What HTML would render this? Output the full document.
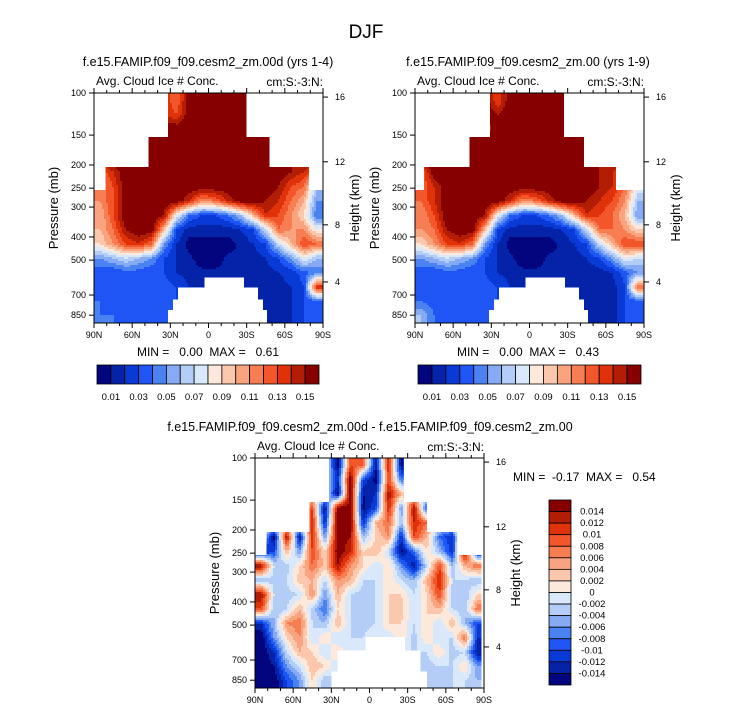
<!DOCTYPE html>
<html><head><meta charset="utf-8">
<style>
body{margin:0;background:#fff;}
svg text{font-family:"Liberation Sans",sans-serif;white-space:pre;}
</style></head>
<body>
<svg id="fig" width="733" height="712" viewBox="0 0 733 712" xmlns="http://www.w3.org/2000/svg">
<text x="366" y="38" font-size="19" text-anchor="middle">DJF</text>
</svg>
<script>
// ---- data ----
const lats = [85,75,65,55,45,35,25,15,5,-5,-15,-25,-35,-45,-55,-65,-75,-85];
const presTicks = [100,150,200,250,300,400,500,700,850];
const latTicks = [90,60,30,0,-30,-60,-90];
const latTickLabels = ['90N','60N','30N','0','30S','60S','90S'];
const heightTicks = [16,12,8,4];
const heightTickPres = [104,194,356,617];
const cbLevels = [0.01,0.02,0.03,0.04,0.05,0.06,0.07,0.08,0.09,0.10,0.11,0.12,0.13,0.14,0.15];
const cbLabels = ['0.01','0.03','0.05','0.07','0.09','0.11','0.13','0.15'];
const diffLevels = [-14,-12,-10,-8,-6,-4,-2,0,2,4,6,8,10,12,14]; // x0.001
const diffLabels = ['0.014','0.012','0.01','0.008','0.006','0.004','0.002','0','-0.002','-0.004','-0.006','-0.008','-0.01','-0.012','-0.014'];
const palette = ['#03057e','#0523a8','#0a3ad6','#1f55f5','#4a82f2','#86aaf3','#b4cdf6','#d9e9fb','#fde9dc','#fbc7ad','#f9a47f','#f77e53','#f2562a','#e03208','#b31d04','#870000'];

// rows: 16 bands evenly in log-p from 100 to ~917 mb (top -> bottom)
const fieldA = [
[.16,.16,.16,.16,.16,.14,.12,.16,.16,.16,.16,.16,.16,.16,.16,.16,.16,.16],
[.16,.16,.16,.16,.16,.14,.13,.16,.16,.16,.16,.16,.16,.16,.16,.16,.16,.16],
[.16,.16,.16,.16,.16,.16,.16,.16,.16,.16,.16,.16,.16,.16,.15,.16,.16,.16],
[.16,.16,.16,.16,.16,.16,.16,.16,.16,.16,.16,.16,.16,.16,.15,.16,.16,.16],
[.16,.16,.16,.16,.16,.16,.16,.16,.16,.16,.16,.16,.16,.16,.16,.15,.16,.16],
[.12,.14,.16,.16,.16,.16,.16,.16,.16,.16,.16,.16,.16,.16,.16,.15,.14,.12],
[.11,.13,.16,.16,.16,.16,.16,.16,.16,.16,.16,.16,.16,.16,.15,.13,.12,.06],
[.11,.13,.16,.16,.16,.16,.16,.14,.11,.12,.14,.16,.16,.15,.14,.12,.10,.05],
[.10,.13,.16,.16,.16,.15,.08,.04,.03,.03,.04,.06,.10,.14,.13,.11,.09,.04],
[.10,.12,.15,.16,.16,.10,.03,.015,.015,.015,.015,.02,.03,.07,.12,.11,.11,.08],
[.09,.11,.13,.14,.12,.05,.02,.005,.005,.005,.005,.012,.02,.03,.07,.10,.13,.12],
[.05,.06,.07,.06,.05,.03,.02,.012,.005,.005,.012,.012,.015,.02,.03,.05,.08,.06],
[.035,.03,.035,.035,.03,.03,.02,.015,.012,.012,.012,.012,.015,.015,.02,.025,.035,.045],
[.035,.04,.035,.03,.035,.035,.03,.02,.02,.015,.015,.015,.015,.015,.015,.02,.03,.14],
[.04,.035,.035,.04,.035,.035,.03,.02,.02,.02,.02,.02,.015,.015,.015,.02,.03,.035],
[.04,.04,.035,.04,.035,.035,.03,.02,.02,.02,.02,.02,.015,.015,.015,.02,.03,.035]];
const fieldB = [
[.16,.16,.16,.16,.16,.16,.13,.16,.16,.16,.16,.16,.16,.16,.16,.16,.16,.16],
[.16,.16,.16,.16,.16,.16,.15,.16,.16,.16,.16,.16,.16,.16,.16,.16,.16,.16],
[.16,.16,.16,.16,.16,.14,.16,.16,.16,.16,.16,.16,.16,.16,.16,.16,.16,.16],
[.16,.16,.16,.16,.16,.16,.16,.16,.16,.16,.16,.16,.16,.16,.16,.16,.16,.16],
[.16,.16,.16,.16,.16,.16,.16,.16,.16,.16,.16,.16,.16,.16,.15,.15,.16,.16],
[.12,.16,.16,.16,.16,.16,.16,.16,.16,.16,.16,.16,.16,.16,.15,.14,.13,.12],
[.12,.14,.16,.16,.16,.16,.16,.16,.16,.16,.16,.16,.16,.16,.15,.14,.12,.08],
[.12,.14,.16,.16,.16,.16,.16,.14,.11,.12,.14,.16,.16,.15,.14,.13,.11,.06],
[.11,.13,.16,.16,.16,.15,.08,.04,.03,.03,.04,.06,.10,.14,.13,.12,.10,.05],
[.11,.12,.15,.16,.16,.10,.03,.015,.015,.015,.015,.02,.03,.07,.12,.12,.11,.09],
[.09,.11,.13,.14,.12,.05,.02,.005,.005,.005,.005,.012,.02,.03,.07,.10,.13,.13],
[.05,.06,.07,.06,.05,.03,.02,.012,.005,.005,.012,.012,.015,.02,.03,.05,.08,.07],
[.035,.03,.035,.035,.03,.03,.02,.015,.012,.012,.012,.012,.015,.015,.015,.02,.035,.05],
[.035,.04,.035,.03,.035,.035,.03,.02,.02,.015,.015,.015,.015,.015,.015,.015,.03,.12],
[.04,.035,.035,.04,.035,.035,.03,.02,.02,.02,.02,.02,.015,.015,.012,.015,.03,.035],
[.06,.04,.035,.04,.035,.035,.03,.02,.02,.02,.02,.02,.015,.015,.012,.015,.03,.035]];
// difference field, units of 0.001
const fieldD = [
[0,0,0,0,0,0,-15,10,8,-14,12,-15,0,0,0,0,0,0],
[0,0,0,0,0,0,-12,16,-10,-15,10,-8,0,0,0,0,0,0],
[0,0,0,0,0,0,-15,16,-14,-12,14,4,0,0,0,0,0,0],
[0,0,0,0,10,-15,16,16,-15,-10,12,-6,14,-10,0,0,0,0],
[0,0,0,0,12,-12,16,16,-12,4,8,-4,12,8,0,0,0,0],
[0,-15,14,-14,12,-6,16,14,-4,2,6,-12,10,4,-8,-12,14,0],
[-14,-10,4,-6,10,2,16,12,2,4,-2,-15,-8,2,-4,-12,16,-14],
[14,-2,-3,2,8,3,14,6,2,-2,2,-6,-14,-2,10,-4,4,8],
[-4,-3,-2,3,4,-2,6,4,-2,-2,2,-2,-4,4,12,-2,-2,-4],
[14,-2,-3,-2,6,-6,4,-2,-3,-2,2,2,-2,2,10,-3,-4,2],
[10,-4,-2,4,-3,-8,2,-2,-3,-2,2,3,-2,2,4,-2,-4,8],
[-12,-4,6,8,-2,-4,4,-2,-3,-2,2,2,-2,2,-2,4,-4,-10],
[-16,-6,2,6,-2,2,-2,-2,-2,0,-2,2,-3,2,-2,-2,8,-12],
[-16,-12,-2,4,2,-2,2,-2,-2,-2,-2,-2,-2,-2,2,-3,-2,-14],
[-16,-14,-6,-2,4,2,-2,-2,-2,-2,-2,-2,-2,-3,-2,-2,2,-6],
[-16,-16,-10,-6,2,-4,-2,-2,-2,-2,-2,-2,-2,-4,-4,-2,-2,-4]];
// masked (missing) boxes: [latNorth, latSouth, pTop, pBottom]
const maskA = [[90,32,100,150],[-30,-90,100,150],[90,47,150,200],[-48,-90,150,200],[90,81,200,250],[-79,-90,200,250],[3,-28,590,1000],[24,-39,650,1000],[28,-43,730,1000],[32,-46,810,1000]];
const maskB = [[90,31,100,150],[-27,-90,100,150],[90,47,150,200],[-43,-90,150,200],[90,83,200,250],[-68,-90,200,250],[3,-28,590,1000],[24,-39,650,1000],[28,-43,730,1000],[32,-46,810,1000]];
const maskD = [[90,32,100,150],[-27,-90,100,150],[90,47,150,200],[-45,-90,150,200],[90,81,200,250],[-69,-90,200,250],[-88,-90,250,1000],[3,-28,560,1000],[25,-40,640,1000],[30,-45,780,1000]];

// ---- drawing ----
const NS='http://www.w3.org/2000/svg';
const svg=document.getElementById('fig');
function mk(tag,attrs,parent){const e=document.createElementNS(NS,tag);for(const k in attrs)e.setAttribute(k,attrs[k]);(parent||svg).appendChild(e);return e;}
const W=229,H=230,LOGSPAN=0.962,STEP=2;
function binIdx(v,levels){let i=0;while(i<levels.length&&v>=levels[i]-1e-9)i++;return i;}
function sample(field,fc,fr){
  const nr=field.length,nc=field[0].length;
  fc=Math.max(0,Math.min(nc-1,fc));fr=Math.max(0,Math.min(nr-1,fr));
  const c0=Math.floor(fc),r0=Math.floor(fr),c1=Math.min(nc-1,c0+1),r1=Math.min(nr-1,r0+1);
  const a=fc-c0,b=fr-r0;
  return (field[r0][c0]*(1-a)+field[r0][c1]*a)*(1-b)+(field[r1][c0]*(1-a)+field[r1][c1]*a)*b;
}

function panel(x0,y0,field,levels,mask,name,title,titleX){
  const g=mk('g',{});
  
  
  const xOf=lat=>x0+(90-lat)/180*W;
  const yOf=p=>y0+(Math.log10(p)-2)/LOGSPAN*H;
  const cid='clip-'+name;
  const cp=mk('clipPath',{id:cid},g);mk('rect',{x:x0,y:y0,width:W,height:H},cp);
  const cg=mk('g',{'clip-path':'url(#'+cid+')','shape-rendering':'crispEdges'},g);
  const nr=field.length,rh=H/nr,cw=W/lats.length;
  for(let py=0;py<H;py+=STEP){
    const fr=(py+STEP/2)/rh-0.5;
    let runStart=0,runIdx=-1;
    for(let px=0;;px+=STEP){
      const end=px>=W;
      let idx=-2;
      if(!end){const fc=(px+STEP/2)/cw-0.5;idx=binIdx(sample(field,fc,fr),levels);}
      if(idx!==runIdx){
        if(runIdx>=0){
          const cell=mk('rect',{x:x0+runStart,y:y0+py,width:Math.min(px,W)-runStart+0.5,height:STEP+0.5,fill:palette[runIdx]},cg);
          
          
        }
        runStart=px;runIdx=idx;
      }
      if(end)break;
    }
  }
  mask.forEach(m=>{
    const mr=mk('rect',{x:xOf(m[0]),y:yOf(m[2]),width:xOf(m[1])-xOf(m[0]),height:yOf(m[3])-yOf(m[2])+2,fill:'#fff'},cg);
    
    
  });
  mk('rect',{x:x0,y:y0,width:W,height:H,fill:'none',stroke:'#000','stroke-width':1},g);
  presTicks.forEach(p=>{const y=yOf(p);
    mk('line',{x1:x0-5,x2:x0,y1:y,y2:y,stroke:'#000'},g);
    const t=mk('text',{x:x0-8,y:y+3,'font-size':9,'text-anchor':'end'},g);t.textContent=p;
    
    });
  for(let lat=90;lat>=-90;lat-=10){const x=xOf(lat);const major=lat%30===0;
    mk('line',{x1:x,x2:x,y1:y0+H,y2:y0+H+(major?5:3),stroke:'#000'},g);
    mk('line',{x1:x,x2:x,y1:y0,y2:y0-(major?5:3),stroke:'#000'},g);}
  latTicks.forEach((lat,i)=>{const t=mk('text',{x:xOf(lat),y:y0+H+15,'font-size':9,'text-anchor':'middle'},g);t.textContent=latTickLabels[i];
    
    });
  heightTicks.forEach((h,i)=>{const y=yOf(heightTickPres[i]);
    mk('line',{x1:x0+W,x2:x0+W+5,y1:y,y2:y,stroke:'#000'},g);
    const t=mk('text',{x:x0+W+12,y:y+3,'font-size':9},g);t.textContent=h;
    
    });
  let t=mk('text',{x:x0-36,y:y0+H/2,'font-size':13,'text-anchor':'middle',transform:`rotate(-90 ${x0-36} ${y0+H/2})`},g);t.textContent='Pressure (mb)';
  
  t=mk('text',{x:x0+W+36,y:y0+H/2,'font-size':13,'text-anchor':'middle',transform:`rotate(-90 ${x0+W+36} ${y0+H/2})`},g);t.textContent='Height (km)';
  
  t=mk('text',{x:x0+2,y:y0-8,'font-size':12},g);t.textContent='Avg. Cloud Ice # Conc.';
  
  t=mk('text',{x:x0+W,y:y0-7,'font-size':12,'text-anchor':'end'},g);t.textContent='cm:S:-3:N:';
  
  t=mk('text',{x:titleX,y:y0-27,'font-size':12.5,'text-anchor':'middle'},g);t.textContent=title;
  
}

function hColorbar(x0,y0,w,h,name){
  const g=mk('g',{});
  
  
  const bw=w/16;
  for(let i=0;i<16;i++){const r=mk('rect',{x:x0+i*bw,y:y0,width:bw,height:h,fill:palette[i],stroke:'#000','stroke-width':0.8},g);
    }
  cbLabels.forEach((l,i)=>{const t=mk('text',{x:x0+(1+2*i)*bw,y:y0+h+16,'font-size':9.5,'text-anchor':'middle'},g);t.textContent=l;
    });
}
function vColorbar(x0,y0,w,h,name){
  const g=mk('g',{});
  
  
  const bh=h/16;
  for(let i=0;i<16;i++){const r=mk('rect',{x:x0,y:y0+i*bh,width:w,height:bh,fill:palette[15-i],stroke:'#000','stroke-width':0.8},g);
    }
  diffLabels.forEach((l,i)=>{const t=mk('text',{x:x0+w+21,y:y0+(i+1)*bh+3,'font-size':9.5,'text-anchor':'middle'},g);t.textContent=l;
    });
}
function label(x,y,txt,name,anchor){const t=mk('text',{x:x,y:y,'font-size':12,'text-anchor':anchor||'middle'});t.textContent=txt;
  }

panel(94,93,fieldA,cbLevels,maskA,'panel-test','f.e15.FAMIP.f09_f09.cesm2_zm.00d (yrs 1-4)',208);
panel(415,93,fieldB,cbLevels,maskB,'panel-control','f.e15.FAMIP.f09_f09.cesm2_zm.00 (yrs 1-9)',528);
panel(255,458,fieldD,diffLevels,maskD,'panel-difference','f.e15.FAMIP.f09_f09.cesm2_zm.00d - f.e15.FAMIP.f09_f09.cesm2_zm.00',370);
label(208,356,'MIN =   0.00  MAX =   0.61','minmax-test');
label(528,356,'MIN =   0.00  MAX =   0.43','minmax-control');
label(513,481,'MIN =  -0.17  MAX =   0.54','minmax-difference','start');
hColorbar(97,365,222,19,'colorbar-test');
hColorbar(418,365,223,19,'colorbar-control');
vColorbar(549,500,22,185,'colorbar-difference');
</script>
</body></html>
